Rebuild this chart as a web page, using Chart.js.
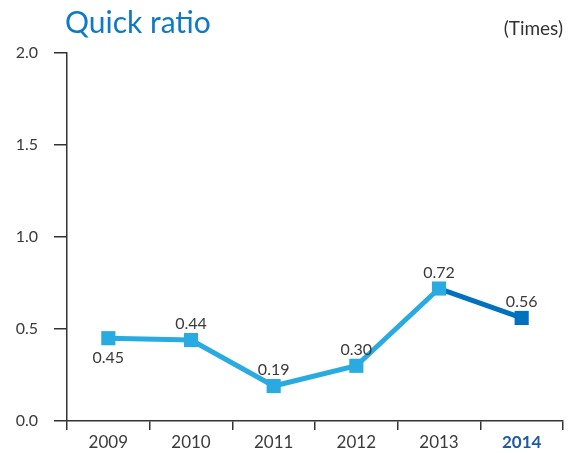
<!DOCTYPE html>
<html>
<head>
<meta charset="utf-8">
<script src="https://cdn.jsdelivr.net/npm/chart.js@4"></script>
<style>
  html, body { margin: 0; padding: 0; background: #fff; }
  #wrap { position: relative; width: 573px; height: 453px; }
  #title { position: absolute; left: 65px; top: 3px; font: 30px 'Lato', sans-serif; color: #0e7ac4; }
  #unit { position: absolute; right: 10px; top: 16px; font: 19px 'Lato', sans-serif; color: #333; }
  canvas { position: absolute; left: 0; top: 0; }
</style>
</head>
<body>
<div id="wrap">
  <canvas id="ratioChart" width="573" height="453"></canvas>
  <div id="title">Quick ratio</div>
  <div id="unit">(Times)</div>
</div>
<script>
const years = ['2009', '2010', '2011', '2012', '2013', '2014'];
const quickRatio = [0.45, 0.44, 0.19, 0.30, 0.72, 0.56];
const valueLabels = ['0.45', '0.44', '0.19', '0.30', '0.72', '0.56'];
const yTicks = [0, 0.5, 1.0, 1.5, 2.0];

const LIGHT = '#29abe2';
const DARK = '#0071bc';
const AXIS = '#333333';

// value labels: first one sits under its point, the rest above
const valueLabelPlugin = {
    id: 'valueLabels',
    afterDatasetsDraw(chart) {
        const ctx = chart.ctx;
        const meta = chart.getDatasetMeta(0);
        ctx.save();
        ctx.font = "16px 'Lato', sans-serif";
        ctx.fillStyle = '#3a3a3a';
        ctx.textAlign = 'center';
        ctx.textBaseline = 'middle';
        meta.data.forEach((pt, i) => {
            const dy = i === 0 ? 20 : -16;
            ctx.fillText(valueLabels[i], pt.x, pt.y + dy);
        });
        ctx.restore();
    }
};

new Chart(document.getElementById('ratioChart'), {
    type: 'line',
    data: {
        labels: years,
        datasets: [{
            data: quickRatio,
            borderWidth: 5,
            borderColor: LIGHT,
            segment: {
                borderColor: c => c.p1DataIndex === years.length - 1 ? DARK : LIGHT
            },
            pointStyle: 'rect',
            pointRadius: 10,
            pointBorderWidth: 0,
            pointBackgroundColor: quickRatio.map((v, i) => i === years.length - 1 ? DARK : LIGHT),
            tension: 0
        }]
    },
    options: {
        responsive: false,
        animation: false,
        layout: { padding: { left: 0, right: 8, top: 53, bottom: 0 } },
        plugins: {
            legend: { display: false },
            tooltip: { enabled: false }
        },
        scales: {
            x: {
                offset: true,
                grid: {
                    offset: true,
                    drawOnChartArea: false,
                    color: AXIS,
                    tickLength: 9,
                    lineWidth: 1.5
                },
                border: { color: AXIS, width: 1.5 },
                ticks: {
                    padding: 2,
                    color: c => c.index === years.length - 1 ? '#1f5aa6' : '#3a3a3a',
                    font: c => ({
                        family: "'Lato', sans-serif",
                        size: 17,
                        weight: c.index === years.length - 1 ? 'bold' : 'normal'
                    })
                },
                afterFit: s => { s.height = 32; }
            },
            y: {
                min: 0,
                max: 2,
                afterBuildTicks: s => { s.ticks = yTicks.map(v => ({ value: v })); },
                grid: {
                    drawOnChartArea: false,
                    color: AXIS,
                    tickLength: 13,
                    lineWidth: 1.5
                },
                border: { color: AXIS, width: 1.5 },
                ticks: {
                    padding: 16,
                    color: '#3a3a3a',
                    font: { family: "'Lato', sans-serif", size: 16 },
                    callback: v => v.toFixed(1)
                },
                afterFit: s => { s.width = 67; }
            }
        }
    },
    plugins: [valueLabelPlugin]
});
</script>
</body>
</html>
